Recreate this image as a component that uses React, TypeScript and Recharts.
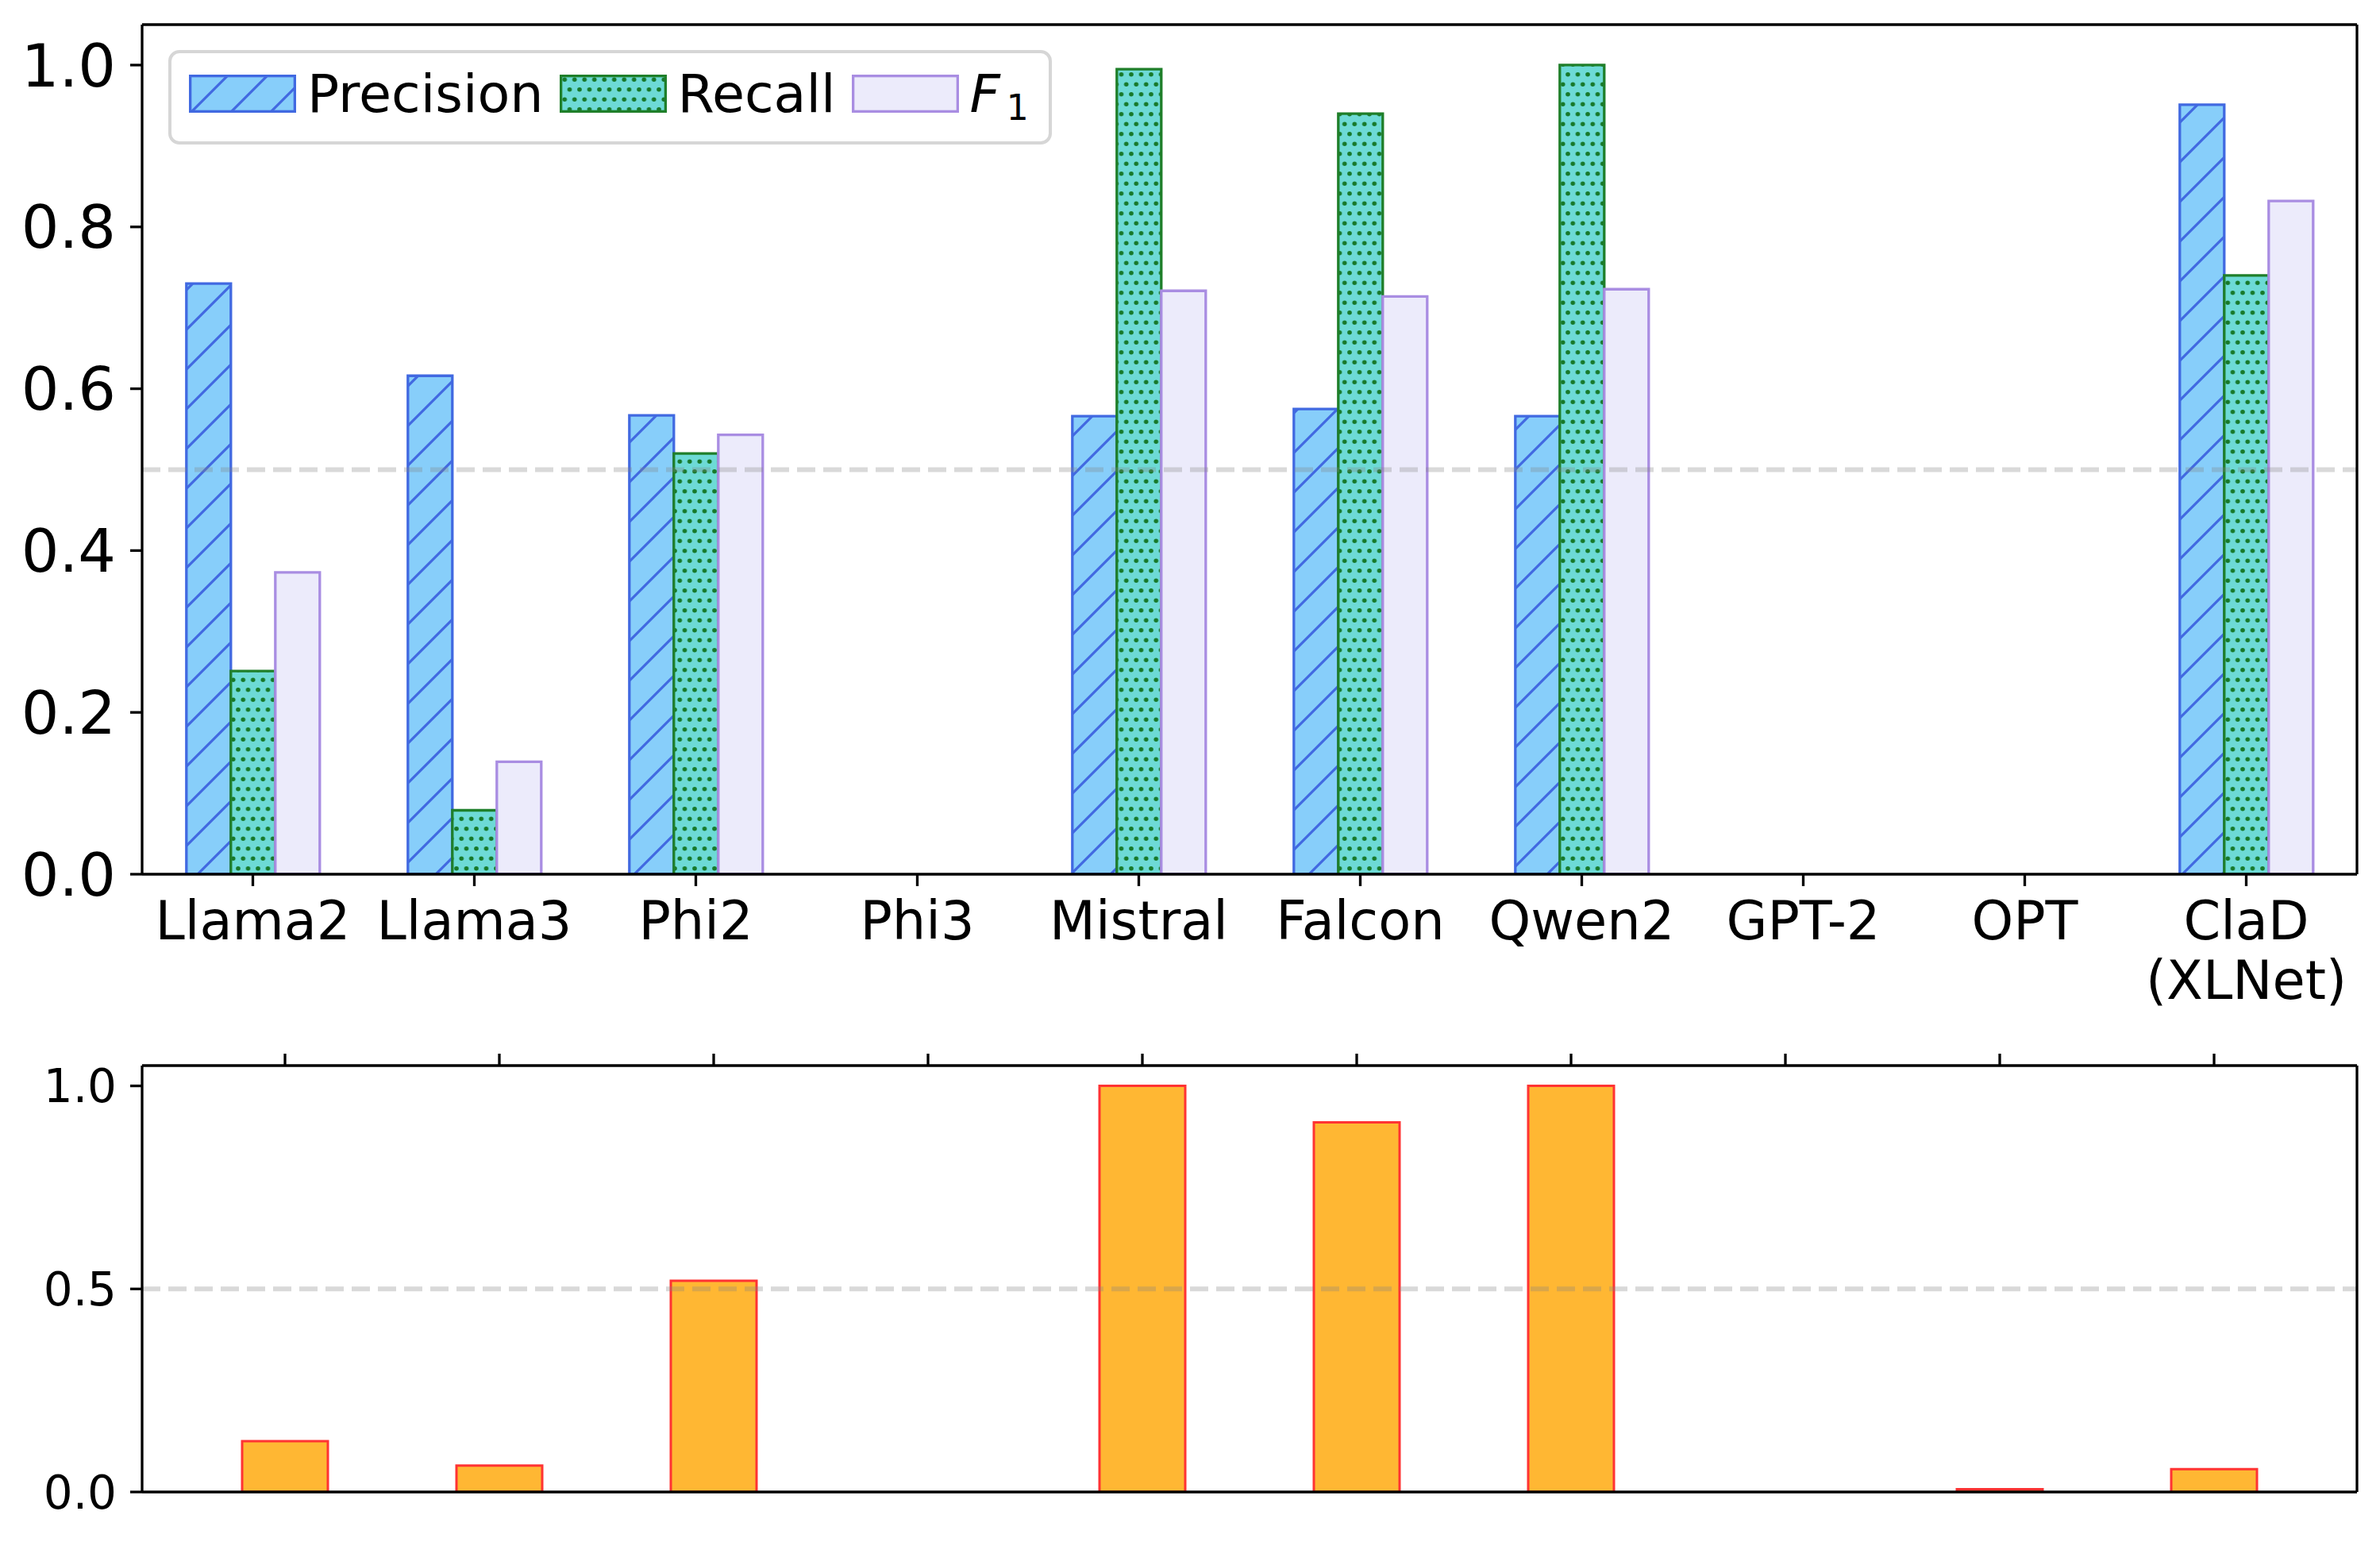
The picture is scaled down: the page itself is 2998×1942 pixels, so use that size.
import React from 'react';
import { BarChart, Bar, XAxis, YAxis, ReferenceLine, Legend } from 'recharts';

// ---------------- data ----------------
const categories = ['Llama2', 'Llama3', 'Phi2', 'Phi3', 'Mistral', 'Falcon', 'Qwen2', 'GPT-2', 'OPT', 'ClaD\n(XLNet)'];
const precision = [0.730, 0.616, 0.567, 0, 0.566, 0.575, 0.566, 0, 0, 0.951];
const recall = [0.251, 0.079, 0.520, 0, 0.995, 0.940, 1.0, 0, 0, 0.740];
const f1 = [0.373, 0.139, 0.543, 0, 0.721, 0.714, 0.723, 0, 0, 0.832];
const lowerValues = [0.125, 0.065, 0.520, 0, 1.0, 0.910, 1.0, 0, 0.007, 0.056];
const topTicks = [0, 0.2, 0.4, 0.6, 0.8, 1.0];
const bottomTicks = [0, 0.5, 1.0];
const seriesNames = ['Precision', 'Recall', 'F1'];

const topData = categories.map((name, i) => ({ name, precision: precision[i], recall: recall[i], f1: f1[i] }));
const bottomData = categories.map((name, i) => ({ name, value: lowerValues[i] }));

// ---------------- styles ----------------
const FONT = '"DejaVu Sans", sans-serif';
const P_FILL = '#87CEFA';
const P_EDGE = '#4169E1';
const R_FILL = '#6DDAD6';
const R_EDGE = '#1F7F2A';
const R_DOT = '#17792A';
const F_FILL = '#ECEBFB';
const F_EDGE = '#A98DE2';
const O_FILL = '#FFB733';
const O_EDGE = '#FF3333';
const SPINE = { stroke: '#000', strokeWidth: 3.3 };

function patternDefs(prefix: string) {
  return (
    <defs>
      <pattern id={`${prefix}-hatch`} patternUnits="userSpaceOnUse" width={50} height={50}>
        <rect width={50} height={50} fill={P_FILL} />
        <path d="M0,50 L50,0 M-10,10 L10,-10 M40,60 L60,40" stroke={P_EDGE} strokeWidth={3.2} />
      </pattern>
      <pattern id={`${prefix}-dots`} patternUnits="userSpaceOnUse" width={12.5} height={25}>
        <rect width={12.5} height={25} fill={R_FILL} />
        <circle cx={6.25} cy={6.25} r={2.8} fill={R_DOT} />
        <circle cx={0} cy={18.75} r={2.8} fill={R_DOT} />
        <circle cx={12.5} cy={18.75} r={2.8} fill={R_DOT} />
      </pattern>
    </defs>
  );
}

const legendStyles: Record<string, { fill: string; stroke: string }> = {
  Precision: { fill: 'url(#lg-hatch)', stroke: P_EDGE },
  Recall: { fill: 'url(#lg-dots)', stroke: R_EDGE },
  F1: { fill: F_FILL, stroke: F_EDGE },
};

function LegendLabel({ name }: { name: string }) {
  if (name === 'F1') {
    return (
      <span style={{ whiteSpace: 'nowrap' }}>
        <span style={{ fontStyle: 'italic' }}>F</span>
        <span style={{ fontSize: '0.66em', position: 'relative', top: '0.23em', marginLeft: '0.18em' }}>1</span>
      </span>
    );
  }
  return <span style={{ whiteSpace: 'nowrap' }}>{name}</span>;
}

function LegendContent(props: any) {
  const payload = [...(props.payload || [])].sort(
    (a: any, b: any) => seriesNames.indexOf(a.value) - seriesNames.indexOf(b.value)
  );
  return (
    <div
      style={{
        boxSizing: 'border-box',
        width: 1113,
        height: 119,
        border: '4px solid #D6D6D6',
        borderRadius: 14,
        background: 'rgba(255,255,255,0.8)',
        display: 'flex',
        alignItems: 'center',
        paddingLeft: 22,
        paddingBottom: 9,
        fontFamily: FONT,
        fontSize: 66.7,
        color: '#000',
        lineHeight: 'normal',
      }}
    >
      {payload.map((entry: any, i: number) => {
        const st = legendStyles[entry.value] || { fill: '#ccc', stroke: '#999' };
        return (
          <div key={i} style={{ display: 'flex', alignItems: 'center', marginRight: 20 }}>
            <svg width={135} height={48} style={{ display: 'block', marginRight: 14 }}>
              {patternDefs('lg')}
              <rect x={1.65} y={1.65} width={131.7} height={44.7} fill={st.fill} stroke={st.stroke} strokeWidth={3.3} />
            </svg>
            <LegendLabel name={entry.value} />
          </div>
        );
      })}
    </div>
  );
}

function CategoryTick(props: any) {
  const { x, y, payload } = props;
  const lines = String(payload.value).split('\n');
  return (
    <text x={x} y={y} textAnchor="middle" fontFamily={FONT} fontSize={67} fill="#000">
      {lines.map((ln, i) => (
        <tspan key={i} x={x} dy={i === 0 ? '0.71em' : '1.12em'}>
          {ln}
        </tspan>
      ))}
    </text>
  );
}

export default function App() {
  return (
    <div style={{ position: 'absolute', left: 0, top: 0, width: 2998, height: 1942, background: '#fff', overflow: 'hidden' }}>
      <div style={{ position: 'absolute', left: 0, top: 0 }}>
        <BarChart
          width={2998}
          height={1300}
          data={topData}
          margin={{ top: 30, right: 28, bottom: 0, left: 0 }}
          barCategoryGap="20%"
          barGap={0}
        >
          {patternDefs('top')}
          <XAxis
            dataKey="name"
            interval={0}
            height={199}
            tickSize={15}
            tickMargin={19}
            tick={<CategoryTick />}
            axisLine={SPINE}
            tickLine={SPINE}
          />
          <XAxis xAxisId="top" dataKey="name" orientation="top" height={1} tick={false} tickLine={false} axisLine={SPINE} />
          <YAxis
            domain={[0, 1.05]}
            allowDataOverflow
            ticks={topTicks}
            width={179}
            tickSize={15}
            tickMargin={18}
            tickFormatter={(v: number) => v.toFixed(1)}
            tick={{ fontSize: 75, fill: '#000', fontFamily: FONT }}
            axisLine={SPINE}
            tickLine={SPINE}
          />
          <YAxis yAxisId="right" orientation="right" width={1} domain={[0, 1.05]} allowDataOverflow tick={false} tickLine={false} axisLine={SPINE} />
          <Bar dataKey="precision" name="Precision" fill="url(#top-hatch)" stroke={P_EDGE} strokeWidth={3.3} isAnimationActive={false} />
          <Bar dataKey="recall" name="Recall" fill="url(#top-dots)" stroke={R_EDGE} strokeWidth={3.3} isAnimationActive={false} />
          <Bar dataKey="f1" name="F1" fill={F_FILL} stroke={F_EDGE} strokeWidth={3.3} isAnimationActive={false} />
          <ReferenceLine y={0.5} stroke="#808080" strokeOpacity={0.3} strokeWidth={6} strokeDasharray="23 10" />
          <Legend
            layout="vertical"
            align="center"
            verticalAlign="middle"
            content={<LegendContent />}
            wrapperStyle={{ left: 212, top: 63, width: 1113, height: 119 }}
          />
        </BarChart>
      </div>
      <div style={{ position: 'absolute', left: 0, top: 1300 }}>
        <BarChart
          width={2998}
          height={642}
          data={bottomData}
          margin={{ top: 27, right: 28, bottom: 62, left: 0 }}
          barCategoryGap="30%"
        >
          <XAxis
            dataKey="name"
            orientation="top"
            interval={0}
            height={15}
            tickSize={15}
            padding={{ left: 45, right: 45 }}
            tickFormatter={() => ''}
            axisLine={SPINE}
            tickLine={SPINE}
          />
          <XAxis xAxisId="bottom" dataKey="name" orientation="bottom" height={1} tick={false} tickLine={false} axisLine={SPINE} />
          <YAxis
            domain={[0, 1.05]}
            allowDataOverflow
            ticks={bottomTicks}
            width={179}
            tickSize={15}
            tickMargin={17}
            tickFormatter={(v: number) => v.toFixed(1)}
            tick={{ fontSize: 58, fill: '#000', fontFamily: FONT }}
            axisLine={SPINE}
            tickLine={SPINE}
          />
          <YAxis yAxisId="right" orientation="right" width={1} domain={[0, 1.05]} allowDataOverflow tick={false} tickLine={false} axisLine={SPINE} />
          <Bar dataKey="value" name="Value" fill={O_FILL} stroke={O_EDGE} strokeWidth={3} isAnimationActive={false} />
          <ReferenceLine y={0.5} stroke="#808080" strokeOpacity={0.3} strokeWidth={6} strokeDasharray="23 10" />
        </BarChart>
      </div>
    </div>
  );
}
